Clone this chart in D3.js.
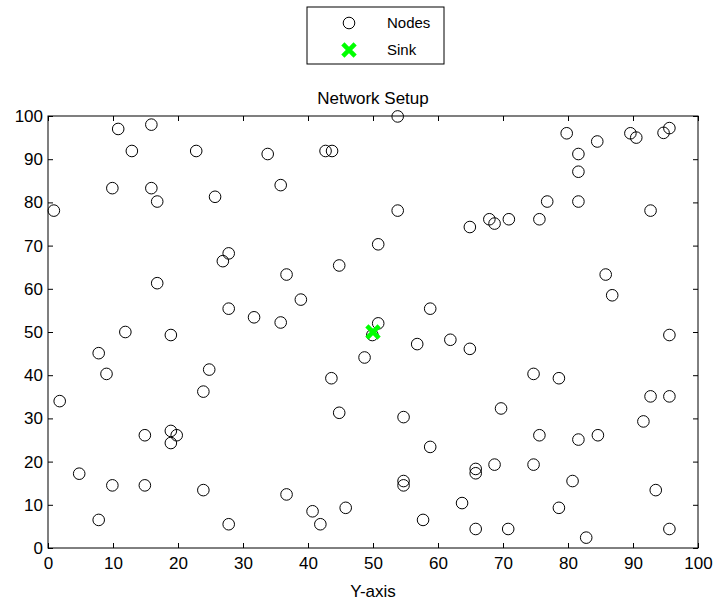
<!DOCTYPE html>
<html>
<head>
<meta charset="utf-8">
<script src="https://cdn.jsdelivr.net/npm/d3@7"></script>
<style>
  body { margin: 0; background: #fff; }
  text { font-family: "Liberation Sans", Arial, sans-serif; fill: #000; }
</style>
</head>
<body>
<svg width="715" height="603"></svg>
<script>
const svg = d3.select("svg");

// node positions
const nodeX = [
    10.8, 15.9, 12.9, 22.8, 33.8, 42.7, 43.7, 9.9, 15.9, 16.8,
    0.9, 25.7, 35.8, 50.8, 27.8, 26.9, 36.7, 44.8, 16.8, 38.9,
    27.8, 31.7, 35.8, 50.8, 53.8, 79.8, 84.5, 89.6, 90.5, 94.7,
    95.6, 81.6, 81.6, 76.8, 81.6, 92.7, 53.8, 67.9, 68.7, 70.9,
    75.6, 64.9, 85.8, 86.8, 58.8, 11.9, 18.9, 7.8, 9.0, 24.8,
    43.6, 48.7, 1.8, 23.9, 44.8, 14.9, 18.9, 19.8, 18.9, 4.8,
    9.9, 14.9, 23.9, 36.7, 40.7, 45.8, 41.9, 27.8, 7.8, 49.9,
    56.8, 61.9, 64.9, 95.6, 74.7, 78.6, 92.7, 95.6, 69.7, 54.7,
    91.6, 75.6, 81.6, 84.6, 58.8, 68.7, 74.7, 65.8, 65.8, 54.7,
    54.7, 80.7, 93.5, 63.7, 78.6, 57.7, 65.8, 70.8, 95.6, 82.8
];
const nodeY = [
    97.0, 98.0, 91.9, 91.9, 91.2, 91.9, 91.9, 83.3, 83.3, 80.2,
    78.1, 81.3, 84.0, 70.3, 68.2, 66.4, 63.3, 65.4, 61.3, 57.5,
    55.4, 53.4, 52.2, 52.0, 99.9, 96.0, 94.1, 96.0, 95.0, 96.1,
    97.2, 91.2, 87.1, 80.2, 80.2, 78.1, 78.1, 76.1, 75.1, 76.1,
    76.1, 74.3, 63.3, 58.5, 55.4, 50.0, 49.3, 45.1, 40.3, 41.3,
    39.3, 44.1, 34.0, 36.2, 31.3, 26.1, 27.1, 26.1, 24.3, 17.2,
    14.5, 14.5, 13.4, 12.4, 8.5, 9.3, 5.5, 5.5, 6.5, 49.3,
    47.2, 48.2, 46.1, 49.3, 40.3, 39.3, 35.1, 35.1, 32.3, 30.3,
    29.3, 26.1, 25.1, 26.1, 23.4, 19.3, 19.3, 18.3, 17.3, 15.5,
    14.5, 15.5, 13.4, 10.4, 9.3, 6.5, 4.4, 4.4, 4.4, 2.4
];
const sink = [50, 50];
const ticks = [0, 10, 20, 30, 40, 50, 60, 70, 80, 90, 100];
const legendLabels = ["Nodes", "Sink"];

const plotL = 48, plotR = 698, plotT = 116, plotB = 548;

const x = d3.scaleLinear().domain([0, 100]).range([plotL, plotR]);
const y = d3.scaleLinear().domain([0, 100]).range([plotB, plotT]);

//====== Axes (ticks pointing inward, all four sides) ======

const axisG = svg.append("g");

axisG.append("g")
    .attr("transform", `translate(0,${plotB})`)
    .call(d3.axisBottom(x).tickValues(ticks).tickSizeInner(-5).tickSizeOuter(0).tickPadding(9))
    .call(g => g.selectAll("text").attr("font-size", 17));

axisG.append("g")
    .attr("transform", `translate(${plotL},0)`)
    .call(d3.axisLeft(y).tickValues(ticks).tickSizeInner(-5).tickSizeOuter(0).tickPadding(5))
    .call(g => g.selectAll("text").attr("font-size", 17));

axisG.append("g")
    .attr("transform", `translate(0,${plotT})`)
    .call(d3.axisTop(x).tickValues(ticks).tickSizeInner(-5).tickSizeOuter(0).tickFormat(""));

axisG.append("g")
    .attr("transform", `translate(${plotR},0)`)
    .call(d3.axisRight(y).tickValues(ticks).tickSizeInner(-5).tickSizeOuter(0).tickFormat(""));

axisG.selectAll("path.domain").remove();
axisG.selectAll("line").attr("stroke", "#000");

svg.append("rect")
    .attr("x", plotL).attr("y", plotT)
    .attr("width", plotR - plotL).attr("height", plotB - plotT)
    .attr("fill", "none").attr("stroke", "#000").attr("stroke-width", 1);

//====== Nodes ======

svg.append("g")
    .selectAll("circle")
    .data(nodeX)
    .join("circle")
        .attr("cx", d => x(d))
        .attr("cy", (d, i) => y(nodeY[i]))
        .attr("r", 5.8)
        .attr("fill", "none")
        .attr("stroke", "#000")
        .attr("stroke-width", 1);

//====== Sink ======

const cross = d3.symbol().type(d3.symbolX).size(100);

svg.append("path")
    .attr("d", cross)
    .attr("transform", `translate(${x(sink[0])},${y(sink[1])})`)
    .attr("fill", "none")
    .attr("stroke", "#00ff00")
    .attr("stroke-width", 4.5);

//====== Texts ======

svg.append("text")
    .attr("x", (plotL + plotR) / 2).attr("y", 104)
    .attr("text-anchor", "middle").attr("font-size", 17)
    .text("Network Setup");

svg.append("text")
    .attr("x", (plotL + plotR) / 2).attr("y", 597)
    .attr("text-anchor", "middle").attr("font-size", 17)
    .text("Y-axis");

//====== Legend ======

const legend = svg.append("g").attr("transform", "translate(307,7)");

legend.append("rect")
    .attr("width", 137).attr("height", 57)
    .attr("fill", "#fff").attr("stroke", "#000");

legend.append("circle")
    .attr("cx", 42).attr("cy", 16).attr("r", 5.8)
    .attr("fill", "none").attr("stroke", "#000");

legend.append("path")
    .attr("d", cross)
    .attr("transform", "translate(42,43)")
    .attr("fill", "none").attr("stroke", "#00ff00").attr("stroke-width", 4.5);

legend.selectAll("text.lab")
    .data(legendLabels)
    .join("text")
        .attr("class", "lab")
        .attr("x", 80)
        .attr("y", (d, i) => 16 + i * 27)
        .attr("dy", "0.35em")
        .attr("font-size", 15)
        .text(d => d);
</script>
</body>
</html>
